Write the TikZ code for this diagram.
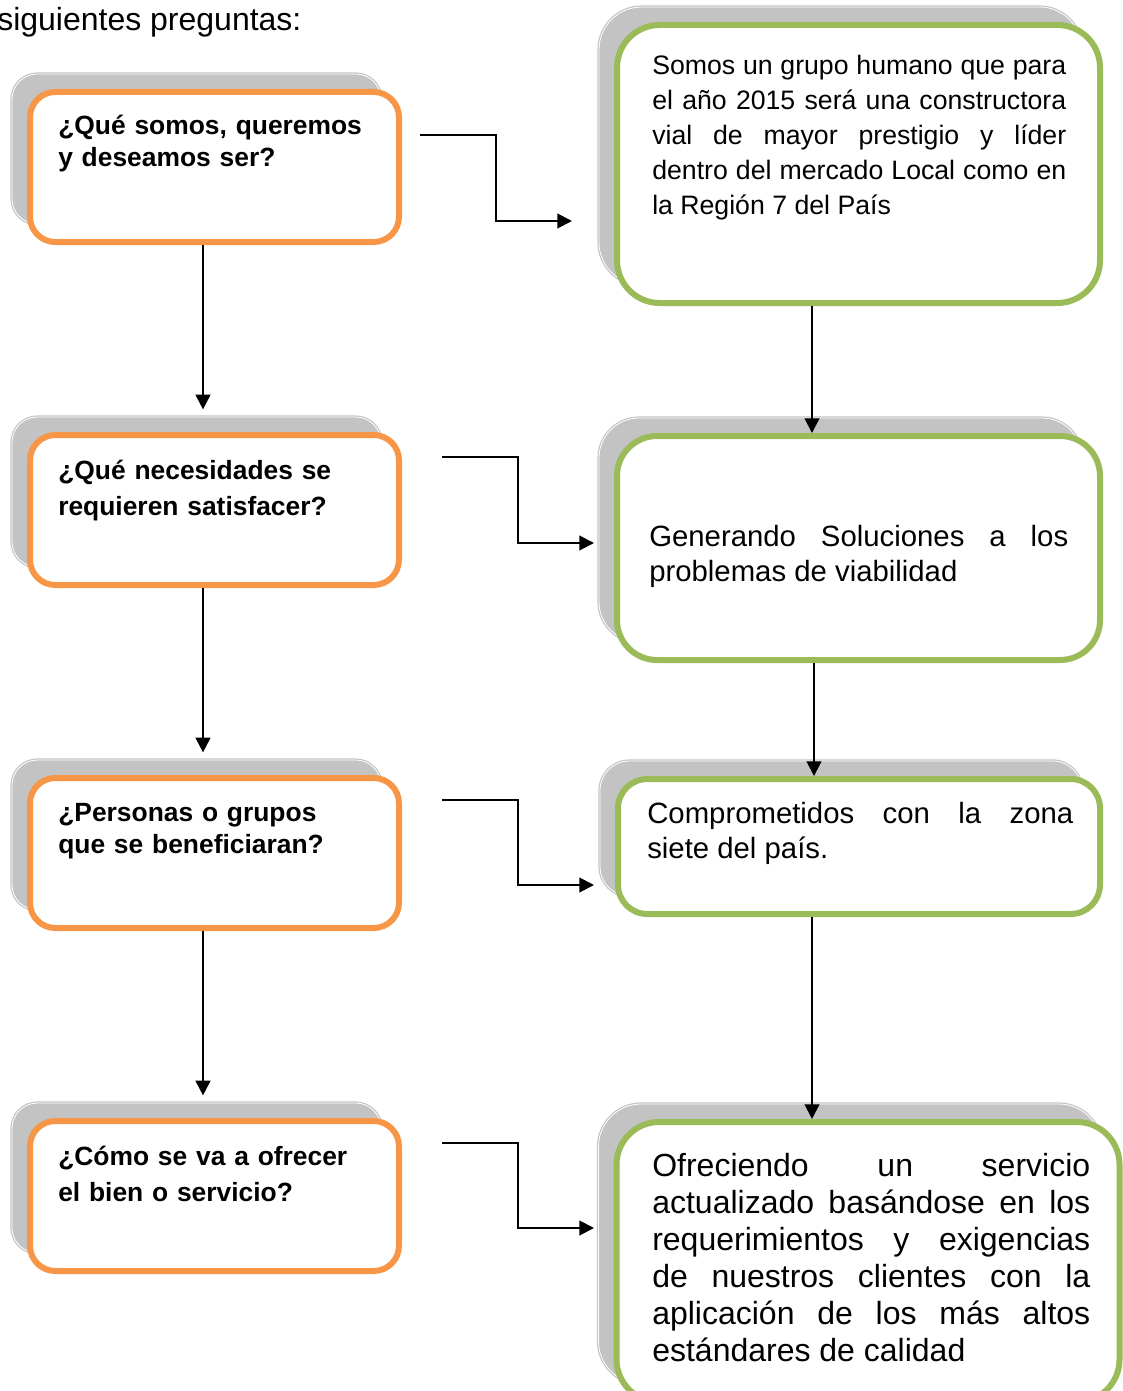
\documentclass[tikz,border=0pt]{standalone}
\usepackage{fontspec}
\setmainfont{Liberation Sans}
\usetikzlibrary{positioning, arrows.meta, calc}
\definecolor{naranja}{RGB}{247,150,70}
\definecolor{verde}{RGB}{155,187,89}
\definecolor{sombragris}{RGB}{195,195,195}
\tolerance=10000
\hyphenpenalty=10000
\tikzset{
    pregunta/.style={rectangle, rounded corners=19pt, draw=naranja, fill=white, line width=4.5pt, minimum width=276.75pt, minimum height=112.5pt},
    respuesta/.style={rectangle, rounded corners=#1, draw=verde, fill=white, line width=4.5pt},
    sombra/.style={rectangle, rounded corners=#1, draw=sombragris, fill=sombragris, double=white, double distance=0.6pt, line width=0.9pt},
    sombrapreg/.style={sombra=19pt, minimum width=276.75pt, minimum height=112.5pt},
    textopreg/.style={anchor=base west, inner sep=0pt, text width=310pt, align=left, font=\fontsize{19.8}{24}\selectfont\bfseries},
    textoresp/.style={anchor=base west, inner sep=0pt, align=justify},
    flecha/.style={-{Triangle[length=11pt, width=11pt]}, line width=1.5pt, black}
}

\begin{document}
\begin{tikzpicture}[x=0.75pt, y=-0.75pt]
    \useasboundingbox (0,0) rectangle (1123,1391);

    \node[anchor=base west, inner sep=0pt, font=\fontsize{24}{28}\selectfont] (intro) at (-3,31) {siguientes preguntas:};

    % preguntas (izquierda)
    \node[sombrapreg] (q1s) at (196.5,149) {};
    \node[pregunta] (q1) at (214.5,167) {};
    \node[textopreg] (q1t) at (58,135) {¿Qué somos, queremos\\y deseamos ser?};

    \node[sombrapreg] (q2s) at (196.5,492) {};
    \node[pregunta] (q2) at (214.5,510) {};
    \node[textopreg, font=\fontsize{19.8}{27}\selectfont\bfseries] (q2t) at (58,479) {¿Qué necesidades se\\requieren satisfacer?};

    \node[sombrapreg] (q3s) at (196.5,835) {};
    \node[pregunta] (q3) at (214.5,853) {};
    \node[textopreg] (q3t) at (58,821) {¿Personas o grupos\\que se beneficiaran?};

    \node[sombrapreg] (q4s) at (196.5,1178) {};
    \node[pregunta] (q4) at (214.5,1196) {};
    \node[textopreg, font=\fontsize{19.8}{27}\selectfont\bfseries] (q4t) at (58,1165) {¿Cómo se va a ofrecer\\el bien o servicio?};

    % respuestas (derecha)
    \node[sombra=32pt, minimum width=362.25pt, minimum height=208.5pt] (r1s) at (840.5,146) {};
    \node[respuesta=32pt, minimum width=362.25pt, minimum height=208.5pt] (r1) at (858.5,164) {};
    \node[textoresp, text width=310.5pt, font=\fontsize{20}{26.25}\selectfont] (r1t) at (652,75)
        {Somos un grupo humano que para\linebreak el año 2015 será una constructora\linebreak vial de mayor prestigio y líder\linebreak dentro del mercado Local como en\linebreak la Región 7 del País};

    \node[sombra=30pt, minimum width=362.25pt, minimum height=168pt] (r2s) at (840.5,530) {};
    \node[respuesta=30pt, minimum width=362.25pt, minimum height=168pt] (r2) at (858.5,548) {};
    \node[textoresp, text width=314.25pt, font=\fontsize{22}{26.25}\selectfont] (r2t) at (649,546)
        {Generando Soluciones a los\linebreak problemas de viabilidad};

    \node[sombra=22pt, minimum width=361.5pt, minimum height=101.25pt] (r3s) at (841,828.5) {};
    \node[respuesta=22pt, minimum width=361.5pt, minimum height=101.25pt] (r3) at (859,846.5) {};
    \node[textoresp, text width=319.5pt, font=\fontsize{22}{26.25}\selectfont] (r3t) at (647,823)
        {Comprometidos con la zona\linebreak siete del país.};

    \node[sombra=32pt, minimum width=377.25pt, minimum height=210pt] (r4s) at (850,1244) {};
    \node[respuesta=32pt, minimum width=377.25pt, minimum height=210pt] (r4) at (868,1262) {};
    \node[textoresp, text width=328.5pt, font=\fontsize{24}{27.75}\selectfont] (r4t) at (652,1176)
        {Ofreciendo un servicio\linebreak actualizado basándose en los\linebreak requerimientos y exigencias\linebreak de nuestros clientes con la\linebreak aplicación de los más altos\linebreak estándares de calidad};

    % flechas verticales
    \coordinate (v1) at (203,0);
    \coordinate (v2) at (812,0);
    \coordinate (v3) at (814,0);
    \draw[flecha, shorten >=5.25pt] (q1.south -| v1) -- (q2s.north -| v1);
    \draw[flecha, shorten >=5.25pt] (q2.south -| v1) -- (q3s.north -| v1);
    \draw[flecha, shorten >=5.25pt] (q3.south -| v1) -- (q4s.north -| v1);
    \draw[flecha] (r1.south -| v2) -- (r2.north -| v2);
    \draw[flecha] (r2.south -| v3) -- (r3.north -| v3);
    \draw[flecha] (r3.south -| v2) -- (r4.north -| v2);

    % flechas en escalon
    \coordinate (a1) at (420,135);
    \coordinate (b1) at (572,221);
    \coordinate (a2) at (442,457);
    \coordinate (b2) at (594,543);
    \coordinate (a3) at (442,800);
    \coordinate (b3) at (594,885);
    \coordinate (a4) at (442,1143);
    \coordinate (b4) at (594,1228);
    \foreach \i in {1,...,4}
        \draw[flecha] (a\i) -| ($(a\i)!.5!(b\i)$) |- (b\i);
\end{tikzpicture}
\end{document}
